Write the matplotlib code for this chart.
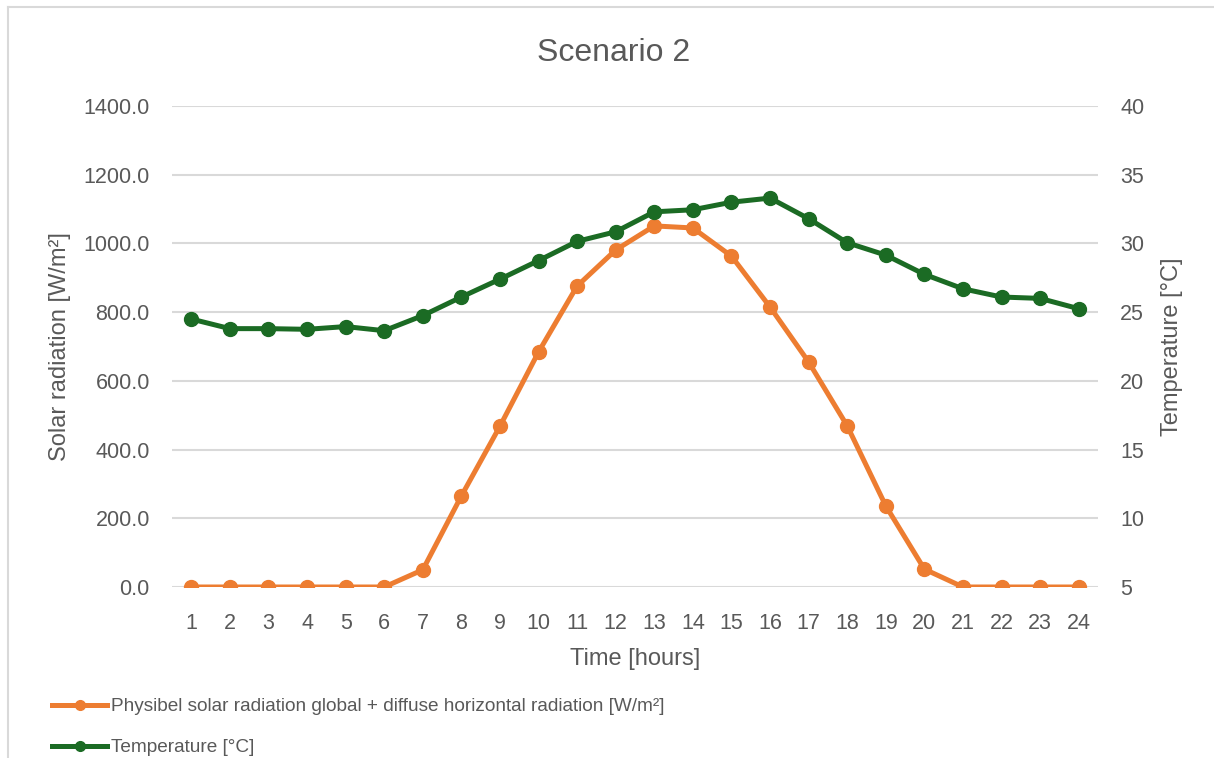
import matplotlib
matplotlib.use("Agg")
import matplotlib.pyplot as plt
from matplotlib.lines import Line2D

plt.rcParams['font.family'] = ['Liberation Sans', 'DejaVu Sans']

# hourly values
hours = list(range(1, 25))
solar = [0, 0, 0, 0, 0, 0, 50, 265, 468, 684, 876, 981,
         1051, 1045, 963, 815, 655, 469, 236, 52, 0, 0, 0, 0]
temperature = [24.5, 23.8, 23.8, 23.75, 23.95, 23.65, 24.75, 26.1, 27.4, 28.75, 30.15, 30.85,
               32.3, 32.45, 33.0, 33.3, 31.8, 30.05, 29.15, 27.75, 26.7, 26.1, 26.0, 25.25]

left_ticks = [0, 200, 400, 600, 800, 1000, 1200, 1400]
right_ticks = [5, 10, 15, 20, 25, 30, 35, 40]

solar_label = "Physibel solar radiation global + diffuse horizontal radiation [W/m²]"
temp_label = "Temperature [°C]"

orange = "#ED7D31"
green = "#1B6B24"
txt = "#595959"
grid_col = "#D9D9D9"

fig = plt.figure(figsize=(12.14, 7.58), dpi=100)
ax = fig.add_axes([172 / 1214, 1 - 587 / 758, (1098 - 172) / 1214, (587 - 106) / 758])
ax2 = ax.twinx()

ax.plot(hours, solar, color=orange, lw=3.6, marker='o', ms=10, zorder=3)
ax2.plot(hours, temperature, color=green, lw=3.6, marker='o', ms=10, zorder=3)

ax.set_xlim(0.5, 24.5)
ax.set_ylim(0, 1400)
ax2.set_ylim(5, 40)
ax.set_xticks(hours)
ax.set_yticks(left_ticks)
ax.set_yticklabels([f"{v:.1f}" for v in left_ticks])
ax2.set_yticks(right_ticks)

ax.grid(axis='y', color=grid_col, lw=1.5)
ax.set_axisbelow(True)
for a in (ax, ax2):
    for s in a.spines.values():
        s.set_visible(False)
ax.tick_params(axis='both', length=0, labelsize=15.5, labelcolor=txt)
ax.tick_params(axis='x', pad=18.5)
ax.tick_params(axis='y', pad=16)
ax2.tick_params(axis='y', length=0, labelsize=15.5, labelcolor=txt, pad=16)

ax.set_xlabel("Time [hours]", fontsize=17, color=txt, labelpad=10.5)
ax.set_ylabel("Solar radiation [W/m²]", fontsize=17, color=txt, labelpad=9)
ax2.set_ylabel(temp_label, fontsize=17, color=txt, labelpad=12)

fig.text(614 / 1214, 1 - 53 / 758, "Scenario 2", fontsize=23, color=txt,
         ha='center', va='center')

# legend at bottom left
handles = [Line2D([], [], color=orange, lw=3.6, marker='o', ms=7),
           Line2D([], [], color=green, lw=3.6, marker='o', ms=7)]
fig.legend(handles, [solar_label, temp_label], loc='upper left',
           bbox_to_anchor=(52 / 1214, 1 - 698 / 758), frameon=False,
           fontsize=13.7, labelcolor=txt, handlelength=2.9, handletextpad=0.2,
           labelspacing=1.25, borderpad=0, borderaxespad=0)

# chart area border (left and top only visible)
fig.add_artist(Line2D([8 / 1214, 8 / 1214], [0, 1 - 7 / 758], color=grid_col, lw=1.5))
fig.add_artist(Line2D([8 / 1214, 1], [1 - 7 / 758, 1 - 7 / 758], color=grid_col, lw=1.5))

fig.savefig("out.png", dpi=100)
